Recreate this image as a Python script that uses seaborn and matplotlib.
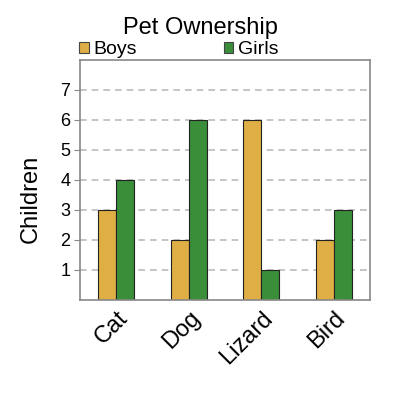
import matplotlib
matplotlib.use("Agg")
import matplotlib.pyplot as plt
import seaborn as sns
import pandas as pd
from matplotlib.patches import Patch

pets = ["Cat", "Dog", "Lizard", "Bird"]
boys = [3, 2, 6, 2]
girls = [4, 6, 1, 3]
series = ["Boys", "Girls"]
colors = ["#DFAE44", "#3A8E3A"]

df = pd.DataFrame({
    "Pet": pets * 2,
    "Children": boys + girls,
    "Group": ["Boys"] * len(pets) + ["Girls"] * len(pets),
})

sns.set_style("white")
plt.rcParams["font.family"] = ["Liberation Sans", "DejaVu Sans"]
plt.rcParams["text.color"] = "black"
plt.rcParams["axes.labelcolor"] = "black"
plt.rcParams["xtick.color"] = "black"
plt.rcParams["ytick.color"] = "black"

fig = plt.figure(figsize=(4, 4), dpi=100)
ax = fig.add_axes([0.20, 0.25, 0.725, 0.60])

sns.barplot(data=df, x="Pet", y="Children", hue="Group", palette=colors,
            width=0.5, edgecolor="#222222", linewidth=0.8, ax=ax, legend=False,
            saturation=1)

ax.set_xlim(-0.5, 3.5)
ax.set_ylim(0, 8)
ax.set_yticks(range(1, 8))
ax.yaxis.grid(True, linestyle=(0, (4, 3)), color="#bbbbbb", linewidth=1.2)
ax.set_axisbelow(True)
for s in ax.spines.values():
    s.set_color("#888888")
    s.set_linewidth(1.2)
ax.tick_params(axis="y", labelsize=13, length=4, color="#888888", left=True, pad=3)
ax.tick_params(axis="x", labelsize=17, length=0, pad=5)
plt.setp(ax.get_xticklabels(), rotation=45, ha="right", rotation_mode="anchor")
ax.set_xlabel("")
ax.set_ylabel("Children", fontsize=17)
ax.yaxis.set_label_coords(-0.133, 0.42)

fig.text(0.5, 0.93, "Pet Ownership", ha="center", va="center", fontsize=17)
handles = [Patch(facecolor=c, edgecolor="#444444", linewidth=0.8) for c in colors]
ax.legend(handles, series, loc="lower left", bbox_to_anchor=(-0.003, 1.008), ncol=2,
          frameon=False, fontsize=14, handlelength=0.5, handleheight=0.5,
          handletextpad=0.25, columnspacing=4.45, borderaxespad=0, borderpad=0)

fig.savefig("out.png", dpi=100)
